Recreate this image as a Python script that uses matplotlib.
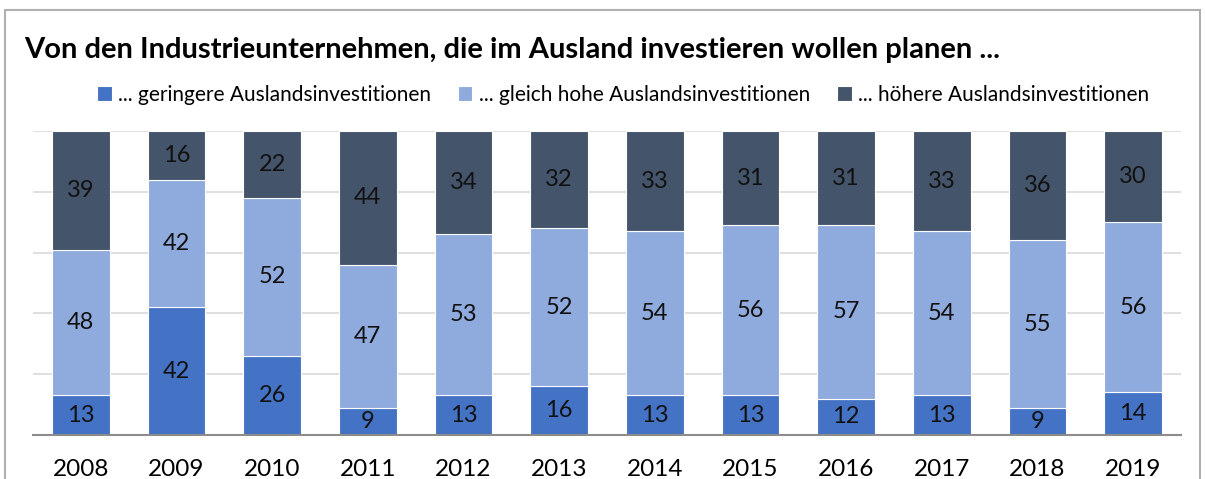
import matplotlib.pyplot as plt
from matplotlib.patches import Rectangle
import numpy as np

jahre = ["2008", "2009", "2010", "2011", "2012", "2013", "2014", "2015", "2016", "2017", "2018", "2019"]
geringer = [13, 42, 26, 9, 13, 16, 13, 13, 12, 13, 9, 14]
gleich = [48, 42, 52, 47, 53, 52, 54, 56, 57, 54, 55, 56]
hoeher = [39, 16, 22, 44, 34, 32, 33, 31, 31, 33, 36, 30]

namen = ["... geringere Auslandsinvestitionen",
         "... gleich hohe Auslandsinvestitionen",
         "... höhere Auslandsinvestitionen"]
farben = ["#4472C4", "#8FAADC", "#44546A"]

plt.rcParams["font.family"] = ["Lato", "DejaVu Sans"]

fig = plt.figure(figsize=(12.05, 4.79), dpi=100)
ax = fig.add_axes([33 / 1205, 1 - 435 / 479, 1148 / 1205, 304 / 479])

x = np.arange(len(jahre))
unten = np.zeros(len(jahre))
for werte, name, farbe in zip([geringer, gleich, hoeher], namen, farben):
    balken = ax.bar(x, werte, 0.6, bottom=unten, color=farbe, edgecolor="white",
                    linewidth=0.8, label=name, zorder=3)
    ax.bar_label(balken, labels=[str(v) for v in werte], label_type="center",
                 fontsize=17, color="#111111")
    unten += np.array(werte)

ax.set_xlim(-0.5, len(jahre) - 0.5)
ax.set_ylim(0, 100)
ax.set_yticks(np.arange(0, 101, 20))
ax.set_yticklabels([])
ax.tick_params(axis="y", length=0)
ax.tick_params(axis="x", length=0, pad=17, labelsize=17.5)
ax.set_xticks(x)
ax.set_xticklabels(jahre)
ax.grid(axis="y", color="#D9D9D9", linewidth=1.2, zorder=0)
for s in ["top", "left", "right"]:
    ax.spines[s].set_visible(False)
ax.spines["bottom"].set_color("#8C8C8C")
ax.spines["bottom"].set_linewidth(1.5)
ax.spines["bottom"].set_zorder(4)

fig.text(24 / 1205, 1 - 50 / 479, "Von den Industrieunternehmen, die im Ausland investieren wollen planen ...",
         fontsize=21, fontweight="bold", va="center", ha="left")

ax.legend(loc="center", bbox_to_anchor=(623 / 1205, 1 - 95 / 479), bbox_transform=fig.transFigure,
          ncol=3, frameon=False, fontsize=15, handlelength=0.7, handleheight=0.7,
          handletextpad=0.3, columnspacing=1.3)

fig.patches.append(Rectangle((5 / 1205, -0.05), 1195 / 1205, 1 - 10 / 479 + 0.05,
                             transform=fig.transFigure, fill=False, edgecolor="#B0B0B0",
                             linewidth=1.5))

fig.savefig("out.png", dpi=100)
